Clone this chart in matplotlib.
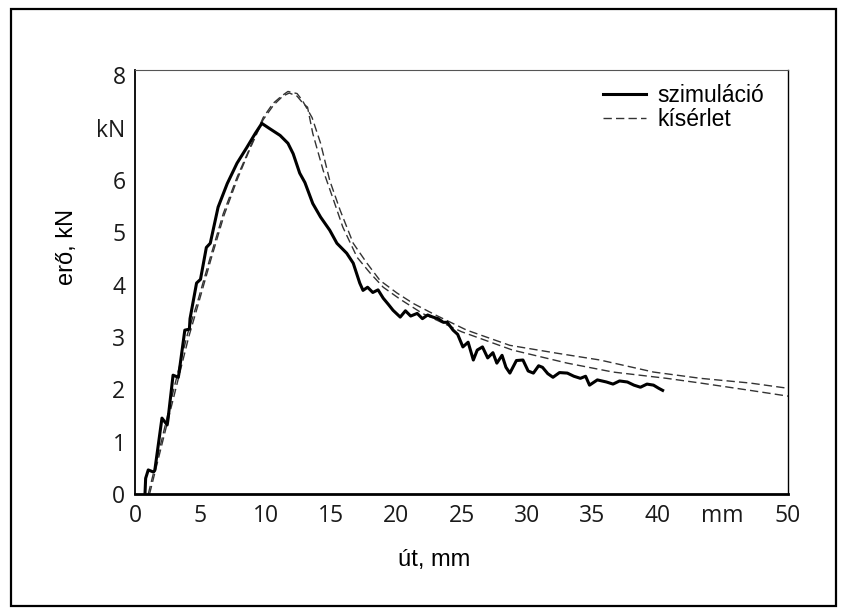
import matplotlib
matplotlib.use("Agg")
import matplotlib.pyplot as plt
from matplotlib.patches import Rectangle

# szimuláció (solid)
sim_x = [0.75, 0.8, 1.0, 1.4, 1.5, 2.05, 2.45, 2.5, 2.9, 3.3,
         3.35, 3.8, 4.15, 4.2, 4.7, 5.0, 5.45, 5.75, 6.35, 7.05,
         7.8, 8.55, 9.2, 9.7, 10.3, 11.1, 11.7, 12.1, 12.6, 13.0,
         13.6, 14.2, 14.9, 15.45, 16.2, 16.7, 17.2, 17.45, 17.8, 18.2,
         18.6, 19.0, 19.4, 19.75, 20.3, 20.7, 21.1, 21.6, 22.0, 22.4,
         22.8, 23.2, 23.6, 23.9, 24.35, 24.7, 25.1, 25.5, 25.9, 26.2,
         26.6, 27.0, 27.4, 27.7, 28.1, 28.4, 28.7, 29.2, 29.7, 30.1,
         30.5, 30.9, 31.2, 31.6, 32.0, 32.5, 33.1, 33.6, 34.1, 34.5,
         34.8, 35.4, 36.1, 36.6, 37.1, 37.7, 38.2, 38.7, 39.2, 39.7,
         40.1, 40.4]
sim_y = [0.0, 0.3, 0.46, 0.42, 0.45, 1.45, 1.32, 1.4, 2.27, 2.23,
         2.3, 3.13, 3.15, 3.35, 4.03, 4.1, 4.71, 4.79, 5.48, 5.93,
         6.32, 6.62, 6.89, 7.08, 6.98, 6.85, 6.70, 6.5, 6.13, 5.95,
         5.55, 5.29, 5.04, 4.79, 4.6, 4.41, 4.03, 3.89, 3.95, 3.85,
         3.9, 3.74, 3.62, 3.51, 3.38, 3.5, 3.40, 3.45, 3.35, 3.42,
         3.38, 3.35, 3.28, 3.28, 3.13, 3.05, 2.81, 2.9, 2.56, 2.75,
         2.81, 2.6, 2.7, 2.5, 2.65, 2.42, 2.31, 2.55, 2.56, 2.35,
         2.31, 2.45, 2.42, 2.3, 2.23, 2.32, 2.31, 2.25, 2.21, 2.25,
         2.08, 2.18, 2.14, 2.1, 2.16, 2.14, 2.08, 2.04, 2.1, 2.08,
         2.02, 1.98]

# kísérlet (two dashed measurements)
expA_x = [1.0, 2.0, 3.0, 4.0, 4.75, 5.75, 6.75, 7.8, 8.8, 9.8,
          10.55, 11.25, 11.7, 12.4, 12.8, 13.55, 14.2, 14.9, 15.7, 16.7,
          17.75, 18.75, 20.05, 21.3, 23.0, 25.4, 28.7, 32.3, 35.6, 39.7,
          43.3, 47.1, 50.0]
expA_y = [0.0, 1.0, 2.05, 3.05, 3.65, 4.52, 5.36, 6.05, 6.62, 7.19,
          7.46, 7.61, 7.69, 7.65, 7.52, 7.19, 6.7, 5.99, 5.42, 4.79,
          4.41, 4.08, 3.84, 3.64, 3.42, 3.13, 2.84, 2.69, 2.56, 2.33,
          2.21, 2.12, 2.02]
expB_x = [1.1, 2.1, 3.1, 4.1, 4.8, 5.8, 6.8, 7.8, 8.8, 9.8,
          10.6, 11.3, 11.8, 12.4, 12.9, 13.2, 13.6, 14.4, 15.2, 15.9,
          17.0, 18.0, 19.0, 20.3, 22.0, 25.0, 28.9, 33.1, 36.6, 40.7,
          43.3, 47.1, 50.0]
expB_y = [0.0, 1.0, 2.0, 3.0, 3.6, 4.48, 5.32, 6.0, 6.6, 7.15,
          7.43, 7.6, 7.66, 7.6, 7.45, 7.39, 6.89, 6.18, 5.61, 5.1,
          4.52, 4.22, 3.95, 3.72, 3.45, 3.1, 2.75, 2.5, 2.33, 2.21,
          2.12, 1.98, 1.87]

x_ticks = [0, 5, 10, 15, 20, 25, 30, 35, 40, 45, 50]
x_labels = ["0", "5", "10", "15", "20", "25", "30", "35", "40", "mm", "50"]
y_ticks = [0, 1, 2, 3, 4, 5, 6, 7, 8]
y_labels = ["0", "1", "2", "3", "4", "5", "6", "kN", "8"]

ARIAL = ["Liberation Sans", "DejaVu Sans"]
TICKF = ["Liberation Sans Narrow", "Open Sans", "DejaVu Sans"]

fig = plt.figure(figsize=(8.45, 6.14), dpi=100)
fig.patch.set_facecolor("white")
ax = fig.add_axes([0.160, 0.1954, 0.7725, 0.6906])

ax.plot(expA_x, expA_y, color="#333333", lw=1.0, ls=(0, (6, 3)), label="kísérlet")
ax.plot(expB_x, expB_y, color="#333333", lw=1.0, ls=(0, (6, 3)))
ax.plot(sim_x, sim_y, color="black", lw=2.2, label="szimuláció")

ax.set_xlim(0, 50)
ax.set_ylim(0, 8.1)
ax.set_xticks(x_ticks)
ax.set_xticklabels(x_labels, family=TICKF, fontsize=16.5, color="#1a1a1a")
ax.set_yticks(y_ticks)
ax.set_yticklabels(y_labels, family=TICKF, fontsize=16.5, color="#1a1a1a")
ax.tick_params(axis="both", length=0)
ax.tick_params(axis="x", pad=7)
ax.tick_params(axis="y", pad=7)

ax.spines["bottom"].set_linewidth(2.0)
ax.spines["left"].set_linewidth(1.3)
ax.spines["top"].set_linewidth(0.8)
ax.spines["top"].set_color("#555555")
ax.spines["right"].set_linewidth(1.0)

# axis titles sit off-centre in the original
fig.text(434 / 845, 1 - 560 / 614, "út, mm", family=ARIAL, fontsize=17,
         ha="center", va="center")
fig.text(67 / 845, 1 - 247 / 614, "erő, kN", family=ARIAL, fontsize=17,
         ha="center", va="center", rotation=90)

handles, labels = ax.get_legend_handles_labels()
order = [1, 0]
ax.legend([handles[i] for i in order], [labels[i] for i in order],
          loc="upper left", bbox_to_anchor=(0.717, 0.968), frameon=False,
          prop={"family": ARIAL, "size": 16.5}, handlelength=1.85,
          handletextpad=0.5, labelspacing=0.05, borderaxespad=0, borderpad=0)

# outer frame around the whole picture
fig.patches.append(Rectangle((0.013, 0.013), 0.976, 0.973, transform=fig.transFigure,
                             fill=False, ec="black", lw=1.6))

fig.savefig("out.png", dpi=100, facecolor="white")
